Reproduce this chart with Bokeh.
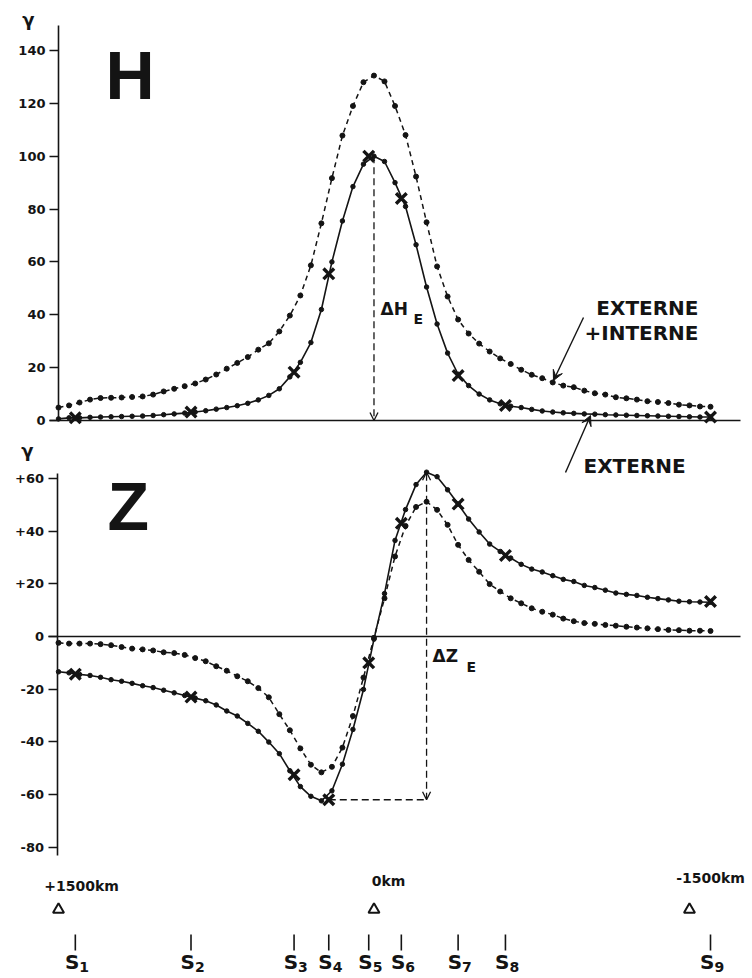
from bokeh.plotting import figure
from bokeh.models import (Range1d, FixedTicker, Label, Arrow, VeeHead, OpenHead,
                          LinearAxis)
from bokeh.core.properties import value
from bokeh.embed import file_html
from bokeh.resources import INLINE

# ---------------- data ----------------
# distance along the profile (km), positive towards S1
x_km = [1500, 1450, 1400, 1350, 1300, 1250, 1200, 1150, 1100, 1050,
        1000, 950, 900, 850, 800, 750, 700, 650, 600, 550,
        500, 450, 400, 350, 300, 250, 200, 150, 100, 50,
        0, -50, -100, -150, -200, -250, -300, -350, -400, -450,
        -500, -550, -600, -650, -700, -750, -800, -850, -900, -950,
        -1000, -1050, -1100, -1150, -1200, -1250, -1300, -1350, -1400, -1450,
        -1500, -1550, -1600]

# H component (gamma): external + internal, and external only
h_total = [4.9, 5.7, 6.8, 7.9, 8.5, 8.6, 8.7, 8.9, 9.1, 9.8,
           11.0, 12.0, 13.0, 14.0, 15.5, 17.4, 19.6, 21.8, 24.0, 26.8,
           29.2, 33.7, 39.7, 47.3, 58.7, 74.6, 91.7, 107.8, 119.0, 128.0,
           130.5, 128.3, 119.0, 108.0, 92.3, 75.0, 58.3, 46.9, 38.2, 32.9,
           29.1, 26.1, 23.5, 21.4, 19.2, 17.3, 16.0, 14.4, 13.2, 12.6,
           11.3, 10.3, 9.8, 8.8, 8.4, 7.9, 7.3, 7.0, 6.6, 6.0,
           5.7, 5.3, 5.2]
h_ext = [0.6, 1.0, 1.0, 1.2, 1.3, 1.4, 1.5, 1.6, 1.7, 1.9,
         2.2, 2.5, 2.8, 3.2, 3.7, 4.3, 4.9, 5.6, 6.5, 7.8,
         9.5, 12.0, 16.5, 22.0, 29.5, 42.0, 60.0, 75.5, 88.5, 97.0,
         100.0, 98.0, 90.0, 81.0, 66.5, 50.5, 36.5, 25.5, 17.5, 13.2,
         10.0, 7.8, 6.3, 5.4, 4.9, 4.2, 3.6, 3.2, 2.9, 2.7,
         2.5, 2.4, 2.2, 2.1, 2.0, 1.9, 1.8, 1.7, 1.6, 1.5,
         1.4, 1.3, 1.3]

# Z component (gamma)
z_total = [-2.4, -2.7, -2.7, -2.7, -2.9, -3.3, -4.0, -4.6, -4.9, -5.3,
           -6.0, -6.3, -7.0, -8.2, -9.4, -11.3, -13.0, -15.1, -17.0, -19.6,
           -23.1, -29.5, -35.6, -42.5, -48.7, -51.6, -49.5, -42.2, -30.2, -15.6,
           -0.5, 14.5, 30.4, 42.0, 49.2, 51.2, 48.1, 42.4, 34.8, 29.1,
           24.6, 19.9, 17.1, 14.5, 12.6, 10.7, 9.4, 8.3, 6.8, 5.8,
           5.1, 4.8, 4.4, 4.1, 3.7, 3.4, 3.1, 2.8, 2.5, 2.4,
           2.2, 2.2, 2.1]
z_ext = [-13.4, -13.8, -14.4, -14.8, -15.5, -16.4, -17.0, -17.8, -18.7, -19.4,
         -20.4, -21.4, -22.4, -23.4, -24.4, -26.0, -28.3, -30.2, -33.0, -36.0,
         -40.1, -44.5, -51.0, -57.0, -60.7, -62.4, -58.6, -48.5, -35.3, -20.1,
         -1.0, 16.3, 36.5, 48.2, 57.7, 62.4, 60.7, 55.7, 50.3, 44.6,
         39.7, 35.1, 32.3, 29.8, 27.4, 25.6, 24.5, 23.1, 21.7, 20.9,
         19.4, 18.6, 17.6, 16.5, 16.0, 15.6, 14.9, 14.4, 13.9, 13.4,
         13.2, 13.1, 13.0]

# stations
st_names = ["1", "2", "3", "4", "5", "6", "7", "8", "9"]
st_km = [1420, 870, 380, 215, 25, -130, -400, -625, -1600]
st_h = [1.0, 3.2, 18.3, 55.5, 100.0, 84.0, 17.0, 5.7, 1.3]
st_z = [-14.3, -23.0, -52.5, -62.0, -10.0, 43.0, 50.3, 30.8, 13.3]

# reference distances
ref_km = [1500, 0, -1500]
ref_labels = ["+1500km", "0km", "-1500km"]

h_ticks = [0, 20, 40, 60, 80, 100, 120, 140]
z_ticks = [-80, -60, -40, -20, 0, 20, 40, 60]
z_tick_labels = ["-80", "-60", "-40", "-20", "0", "+20", "+40", "+60"]

# ---------------- layout helpers (page pixels -> data) ----------------
INK = "#141414"
FONT = "DejaVu Sans"
W, H = 750, 976
PXA, KMA = 58.0, 1500.0      # page x of km = +1500
PXB, KMB = 710.0, -1600.0    # page x of km = -1600


def kx(px):
    return KMA + (px - PXA) * (KMB - KMA) / (PXB - PXA)


HZERO, HS = 420.0, 2.643     # page y of H = 0, px per gamma


def hy(py):
    return (HZERO - py) / HS


ZZERO, ZS = 636.0, 2.633     # page y of Z = 0, px per gamma


def zy(py):
    return (ZZERO - py) / ZS


p = figure(width=W, height=H, x_range=Range1d(kx(0), kx(W)),
           y_range=Range1d(hy(H), hy(0)),
           extra_y_ranges={"z": Range1d(zy(H), zy(0))},
           output_backend="svg", toolbar_location=None,
           x_axis_location=None, y_axis_location=None, min_border=0)
p.outline_line_color = None
p.background_fill_color = "white"
p.border_fill_color = "white"
p.grid.grid_line_color = None
p.grid.visible = False


def style_axis(ax):
    ax.axis_line_width = 1.6
    ax.axis_line_color = INK
    ax.major_tick_out = 9
    ax.major_tick_in = 0
    ax.major_tick_line_width = 1.6
    ax.major_tick_line_color = INK
    ax.minor_tick_out = 0
    ax.minor_tick_in = 0
    ax.major_label_standoff = 4
    ax.major_label_text_font = FONT
    ax.major_label_text_font_style = "bold"
    ax.major_label_text_font_size = "13px"
    ax.major_label_text_color = INK


axH = LinearAxis(fixed_location=kx(58), bounds=(0, hy(25)),
                 ticker=FixedTicker(ticks=h_ticks))
style_axis(axH)
p.add_layout(axH, "left")

axZ = LinearAxis(y_range_name="z", fixed_location=kx(56.5), bounds=(-83, zy(473)),
                 ticker=FixedTicker(ticks=z_ticks),
                 major_label_overrides=dict(zip(z_ticks, z_tick_labels)))
style_axis(axZ)
p.add_layout(axZ, "left")


def label(x, y, text, size, align="left", bold=True, font=FONT,
          y_range_name="default"):
    # y is the vertical centre of the text
    p.add_layout(Label(x=x, y=y, text=text, text_font=font,
                       text_font_style="bold" if bold else "normal",
                       text_font_size=size, text_color=INK, text_align=align,
                       text_baseline="middle", y_range_name=y_range_name))


# ---------------- H panel ----------------
p.segment(x0=kx(49), x1=kx(740), y0=0, y1=0, line_color=INK, line_width=1.6)
p.line(x_km, h_total, line_color=INK, line_width=1.5, line_dash="5 4")
p.scatter(x_km, h_total, size=5, color=INK)
p.line(x_km, h_ext, line_color=INK, line_width=1.6)
p.scatter(x_km, h_ext, size=4.5, color=INK)
p.scatter(st_km, st_h, marker="x", size=15, line_width=3.4, line_color=INK)

ih = h_ext.index(max(h_ext))
p.add_layout(Arrow(x_start=x_km[ih], y_start=h_ext[ih], x_end=x_km[ih], y_end=0,
                   line_color=INK, line_width=1.3, line_dash="7 4",
                   end=OpenHead(size=8, line_color=INK, line_width=1.3)))
label(kx(380), hy(308.5), "\u0394H", "17px")
label(kx(413), hy(318.5), "E", "14px")

label(kx(105), hy(74), "H", "68px", font="Liberation Sans")
label(kx(28), hy(19), "\u03b3", "18px", align="center")

label(kx(698), hy(307.5), "EXTERNE", "20px", align="right")
label(kx(698), hy(332.5), "+INTERNE", "20px", align="right")
p.add_layout(Arrow(x_start=kx(583), y_start=hy(317), x_end=kx(553), y_end=hy(380),
                   line_color=INK, line_width=1.4,
                   end=VeeHead(size=10, fill_color=INK, line_color=INK)))
p.add_layout(Arrow(x_start=kx(565), y_start=hy(472), x_end=kx(590), y_end=hy(415),
                   line_color=INK, line_width=1.4,
                   end=VeeHead(size=10, fill_color=INK, line_color=INK)))
label(kx(583), hy(465.5), "EXTERNE", "20px")

# ---------------- Z panel ----------------
Z = dict(y_range_name="z")
p.segment(x0=kx(48), x1=kx(740), y0=0, y1=0, line_color=INK, line_width=1.6, **Z)
p.line(x_km, z_total, line_color=INK, line_width=1.5, line_dash="5 4", **Z)
p.scatter(x_km, z_total, size=5, color=INK, **Z)
p.line(x_km, z_ext, line_color=INK, line_width=1.6, **Z)
p.scatter(x_km, z_ext, size=4.5, color=INK, **Z)
p.scatter(st_km, st_z, marker="x", size=15, line_width=3.4, line_color=INK, **Z)

iz = z_ext.index(max(z_ext))
imin = st_z.index(min(st_z))
zmin = st_z[imin]
p.add_layout(Arrow(x_start=x_km[iz], y_start=zmin, x_end=x_km[iz], y_end=z_ext[iz],
                   line_color=INK, line_width=1.3, line_dash="7 4",
                   start=OpenHead(size=8, line_color=INK, line_width=1.3),
                   end=OpenHead(size=8, line_color=INK, line_width=1.3), **Z))
p.line([st_km[imin], x_km[iz]], [zmin, zmin], line_color=INK, line_width=1.3,
       line_dash="7 4", **Z)
label(kx(432), zy(655.5), "\u0394Z", "17px", y_range_name="z")
label(kx(466), zy(666.5), "E", "14px", y_range_name="z")

label(kx(107), zy(505), "Z", "68px", font="Liberation Sans", y_range_name="z")
label(kx(27), zy(450), "\u03b3", "18px", align="center", y_range_name="z")

# distance markers and stations
p.scatter(ref_km, zy(909), marker="triangle", size=11, fill_color=None,
          line_color=INK, line_width=2, **Z)
label(kx(81), zy(885), ref_labels[0], "14px", align="center", y_range_name="z")
label(kx(388), zy(880), ref_labels[1], "14px", align="center", y_range_name="z")
label(kx(710), zy(877.5), ref_labels[2], "14px", align="center", y_range_name="z")

p.segment(x0=st_km, x1=st_km, y0=zy(950), y1=zy(934), line_color=INK,
          line_width=1.6, **Z)
p.text(x=st_km, y=zy(961), text=["S"] * len(st_km), x_offset=4,
       text_align="right", text_baseline="middle", text_font=value(FONT),
       text_font_style="bold", text_font_size="20px", text_color=INK, **Z)
p.text(x=st_km, y=zy(966), text=st_names, x_offset=4,
       text_align="left", text_baseline="middle", text_font=value(FONT),
       text_font_style="bold", text_font_size="14px", text_color=INK, **Z)

open("out.html", "w").write(file_html(p, INLINE))
